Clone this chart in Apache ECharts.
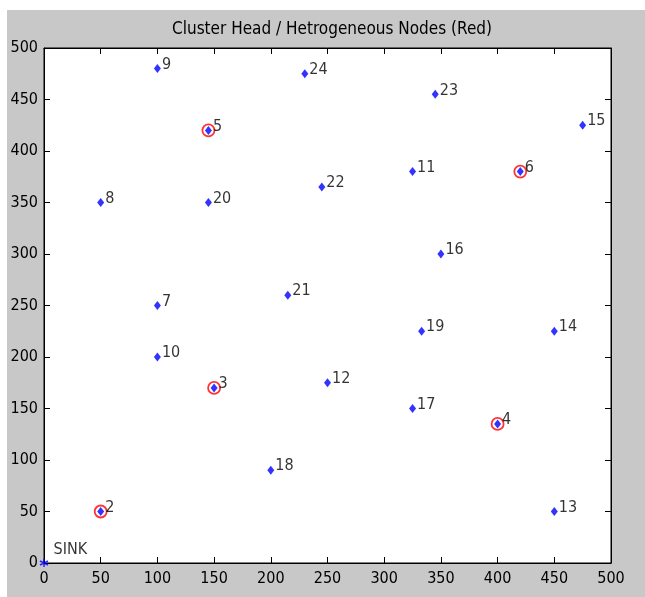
<!DOCTYPE html>
<html>
<head>
<meta charset="utf-8">
<script src="https://cdn.jsdelivr.net/npm/echarts@6/dist/echarts.min.js"></script>
<style>
html,body{margin:0;padding:0;background:#fff;}
#chart{width:645px;height:597px;}
</style>
</head>
<body>
<div id="chart"></div>
<script>
// ---- data ----
const titleText = 'Cluster Head / Hetrogeneous Nodes (Red)';
const nodeIds = [2, 3, 4, 5, 6, 7, 8, 9, 10, 11, 12, 13, 14, 15, 16, 17, 18, 19, 20, 21, 22, 23, 24];
const nodeX   = [50, 150, 400, 145, 420, 100, 50, 100, 100, 325, 250, 450, 450, 475, 350, 325, 200, 333, 145, 215, 245, 345, 230];
const nodeY   = [50, 170, 135, 420, 380, 250, 350, 480, 200, 380, 175, 50, 225, 425, 300, 150, 90, 225, 350, 260, 365, 455, 475];
const clusterHeadIds = [2, 3, 4, 5, 6];
const sinkX = [0];
const sinkY = [0];
const sinkLabel = ['SINK'];
const axisTicks = [0, 50, 100, 150, 200, 250, 300, 350, 400, 450, 500];

// ---- chart ----
const FONT = "'Liberation Sans Narrow', 'DejaVu Sans Condensed', 'Liberation Sans', sans-serif";
const chart = echarts.init(document.getElementById('chart'), null, {renderer: 'canvas'});

const nodeData = nodeIds.map((id, i) => ({name: String(id), value: [nodeX[i], nodeY[i]]}));
const chData = nodeIds.map((id, i) => ({id, value: [nodeX[i], nodeY[i]]}))
  .filter(d => clusterHeadIds.includes(d.id)).map(d => ({value: d.value}));
const sinkData = sinkX.map((x, i) => ({name: sinkLabel[i], value: [x, sinkY[i]]}));

const grid = {left: 44, top: 48, width: 567, height: 515, show: true, backgroundColor: '#fff', borderColor: '#000', borderWidth: 1, containLabel: false};

function mkAxis(pos, showLabel) {
  return {
    type: 'value', position: pos, min: axisTicks[0], max: axisTicks[axisTicks.length - 1], interval: axisTicks[1] - axisTicks[0],
    axisLine: {show: true, onZero: false, lineStyle: {color: '#000', width: 1}},
    axisTick: {show: true, inside: true, length: 6, lineStyle: {color: '#000'}},
    axisLabel: {show: showLabel, color: '#000', fontFamily: FONT, fontSize: 16, margin: pos === 'bottom' ? 8 : 6},
    splitLine: {show: false}
  };
}

const option = {
  animation: false,
  backgroundColor: '#fff',
  graphic: [{type: 'rect', z: -10, silent: true, shape: {x: 7, y: 10, width: 638, height: 587}, style: {fill: '#c8c8c8'}}],
  title: {
    text: titleText, left: 327, top: 16, textAlign: 'center',
    textStyle: {fontFamily: FONT, fontSize: 17, fontWeight: 'normal', color: '#000'}
  },
  grid: grid,
  xAxis: [mkAxis('bottom', true), mkAxis('top', false)],
  yAxis: [mkAxis('left', true), mkAxis('right', false)],
  series: [
    {
      type: 'scatter', name: 'CH', data: chData, symbol: 'circle', symbolSize: 12,
      itemStyle: {color: 'rgba(0,0,0,0)', borderColor: '#ff0000', borderWidth: 1.8}, z: 2
    },
    {
      type: 'scatter', name: 'nodes', data: nodeData, symbol: 'diamond', symbolSize: [7, 9],
      itemStyle: {color: '#0000ff'}, z: 3,
      label: {show: true, position: 'right', distance: 1, offset: [0, -4], formatter: p => p.name,
        fontFamily: FONT, fontSize: 16, color: '#000'}
    },
    {
      type: 'scatter', name: 'sink', data: sinkData,
      symbol: 'path://M5,0 L5,10 M0,2.5 L10,7.5 M0,7.5 L10,2.5', symbolSize: 8,
      itemStyle: {color: 'none', borderColor: '#0000ff', borderWidth: 1.5}, z: 3,
      label: {show: true, position: 'right', distance: 3, offset: [0, -13], formatter: p => p.name,
        fontFamily: FONT, fontSize: 16, color: '#000'}
    }
  ]
};
chart.setOption(option);
</script>
</body>
</html>
